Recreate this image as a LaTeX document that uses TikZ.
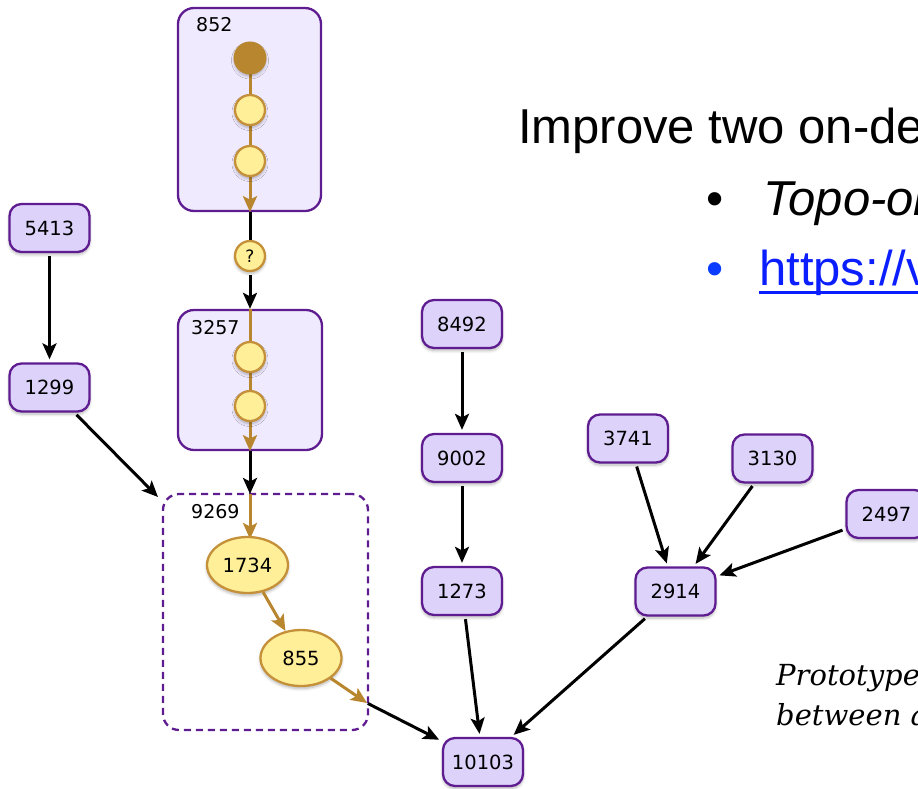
\documentclass[tikz,border=0pt]{standalone}
\usepackage{fontspec}
\setmainfont{Liberation Sans}
\newfontfamily\numfont{DejaVu Sans}
\newfontfamily\capfont{DejaVu Serif}
\usetikzlibrary{arrows.meta,shapes.geometric,shadows.blur}
\definecolor{nodefill}{HTML}{DCD2FA}
\definecolor{nodedraw}{HTML}{5E1C90}
\definecolor{boxfill}{HTML}{EFEAFD}
\definecolor{yel}{HTML}{FFEF98}
\definecolor{yeldraw}{HTML}{C4913A}
\definecolor{brn}{HTML}{B8862E}
\definecolor{linkblue}{HTML}{0A1EFF}
\definecolor{bulletblue}{HTML}{0A3CFF}
\begin{document}
\begin{tikzpicture}[x=1pt,y=-1pt,
  shad/.style={blur shadow={shadow blur steps=6, shadow xshift=0pt, shadow yshift=-2.5pt, shadow blur radius=3pt, shadow opacity=30}},
  num/.style={draw=nodedraw, fill=nodefill, line width=2.3pt, rounded corners=12pt,
    minimum width=80pt, minimum height=48pt, inner sep=0pt, shad,
    font=\numfont\fontsize{19.5}{19.5}\selectfont},
  container/.style={draw=nodedraw, fill=boxfill, line width=2.3pt, rounded corners=16pt, inner sep=0pt},
  dashbox/.style={draw=nodedraw, dash pattern=on 7pt off 5pt, line width=2.3pt, rounded corners=16pt, inner sep=0pt},
  ball/.style={circle, draw=yeldraw, fill=yel, line width=2.3pt, minimum size=30pt, inner sep=0pt,
    font=\numfont\fontsize{17}{17}\selectfont},
  darkball/.style={circle, draw=brn, fill=brn, line width=2pt, minimum size=31pt, inner sep=0pt},
  oval/.style={ellipse, draw=yeldraw, fill=yel, line width=2.3pt, minimum width=81pt, minimum height=56pt,
    inner sep=0pt, font=\numfont\fontsize{19.5}{19.5}\selectfont},
  lbl/.style={anchor=west, inner sep=0pt, font=\numfont\fontsize{19}{19}\selectfont},
  blk/.style={line width=3pt, shorten >=3pt, shorten <=3pt, -{Stealth[length=16pt,width=14pt,inset=3.5pt]}},
  blkline/.style={line width=3pt},
  brnarr/.style={draw=brn, line width=3pt, -{Stealth[length=16pt,width=14pt,inset=3.5pt]}},
  bigtext/.style={anchor=base west, inner sep=0pt, font=\fontsize{49}{49}\selectfont},
  captext/.style={anchor=base west, inner sep=0pt, font=\capfont\itshape\fontsize{29}{29}\selectfont}
]
\useasboundingbox (0,0) rectangle (918,788);
\clip (0,0) rectangle (918,788);

% containers
\node[container, minimum width=143pt, minimum height=203pt] (c852) at (249.5,109.5) {};
\node[container, minimum width=144pt, minimum height=140pt] (c3257) at (250,380) {};
\node[dashbox, minimum width=205pt, minimum height=236pt] (d9269) at (265.5,612) {};
\node[lbl] (l852) at (196,25) {852};
\node[lbl] (l3257) at (191,328) {3257};
\node[lbl] (l9269) at (191,512) {9269};

\coordinate (top9269) at (250,494);
\coordinate (corner) at (158,497);
\coordinate (exit) at (367,703);
\coordinate (b1c) at (250,58);

% brown chains (behind balls)
\draw[brnarr] (b1c) -- (c852.south -| b1c);
\draw[brnarr] (c3257.north) -- (c3257.south);
\draw[brnarr] (top9269) -- ([yshift=-2pt]top9269 |- 0,537);

% balls
\node[darkball, shad] (b1) at (b1c) {};
\node[ball, shad] (b2) at (250,110) {};
\node[ball, shad] (b3) at (250,161) {};
\node[ball, shad] (q) at (250,256) {?};
\node[ball, shad] (b4) at (250,357) {};
\node[ball, shad] (b5) at (250,406) {};
\node[oval, shad] (n1734) at (247.5,565) {1734};
\node[oval, shad] (n855) at (301,658) {855};
\draw[brnarr] (n1734) -- (n855);
\draw[brnarr] (n855) -- (exit);

% plain nodes
\node[num] (n5413) at (49.5,228) {5413};
\node[num] (n1299) at (49.5,387.5) {1299};
\node[num] (n8492) at (462,324) {8492};
\node[num] (n9002) at (462,458) {9002};
\node[num] (n1273) at (462,591) {1273};
\node[num] (n10103) at (483,762) {10103};
\node[num] (n3741) at (628,438.5) {3741};
\node[num] (n3130) at (772.5,458.5) {3130};
\node[num] (n2497) at (886.5,514) {2497};
\node[num] (n2914) at (675.5,591.5) {2914};

% black connectors
\draw[blkline] (c852.south -| q) -- (q);
\draw[blk, shorten >=0pt] (q) -- (c3257.north);
\draw[blk, shorten >=0pt, shorten <=0pt] (c3257.south) -- (top9269);
\draw[blk] (n5413) -- (n1299);
\draw[blk, shorten >=0pt] (n1299) -- (corner);
\draw[blk] (n8492) -- (n9002);
\draw[blk] (n9002) -- (n1273);
\draw[blk] (n1273) -- (n10103);
\draw[blk] (n3741) -- (n2914);
\draw[blk] (n3130) -- (n2914);
\draw[blk] (n2497) -- (n2914);
\draw[blk] (n2914) -- (n10103);
\draw[blk, shorten <=1pt] (exit) -- (n10103);

% text
\node[bigtext] (title) at (518,143) {Improve two on-de};
\node[bigtext] (bul1) at (706,215) {•};
\node[bigtext] (item1) at (763,215) {\itshape Topo-or};
\node[bigtext, text=bulletblue] (bul2) at (706,285) {•};
\node[bigtext, text=linkblue] (item2) at (759,285) {https://v};
\draw[linkblue, line width=3pt] ([yshift=-7pt]item2.base west) -- ([yshift=-7pt]item2.base east);
\node[captext] (cap1) at (776,685) {Prototype};
\node[captext] (cap2) at (776,725) {between a};
\end{tikzpicture}
\end{document}
